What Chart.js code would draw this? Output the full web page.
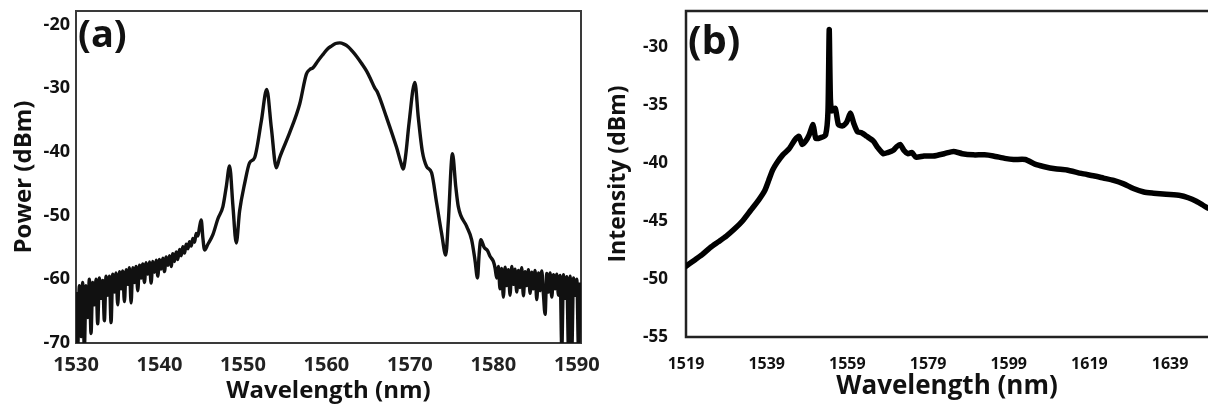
<!DOCTYPE html>
<html><head><meta charset="utf-8">
<script src="https://cdn.jsdelivr.net/npm/chart.js@4.4.0/dist/chart.umd.min.js"></script>
<style>
html,body{margin:0;padding:0;background:#fff;overflow:hidden;width:1208px;height:410px;position:relative;}
#ca{position:absolute;left:0;top:0;}
#cb{position:absolute;left:600px;top:0;}
</style></head><body>
<canvas id="ca" width="600" height="410"></canvas>
<canvas id="cb" width="620" height="410"></canvas>
<script>
// ---------- Panel (a) ----------
const panelA = '(a)';
const xTitleA = 'Wavelength (nm)';
const yTitleA = 'Power (dBm)';
const ticksAX = [1530,1540,1550,1560,1570,1580,1590];
const ticksAY = [-70,-60,-50,-40,-30,-20];
const waveA = [
1530.0,1530.2,1530.4,1530.6,1530.8,1531.0,1531.2,1531.4,1531.6,1531.8,
1532.0,1532.2,1532.4,1532.6,1532.8,1533.0,1533.2,1533.4,1533.6,1533.8,
1534.0,1534.2,1534.4,1534.6,1534.8,1535.0,1535.2,1535.4,1535.6,1535.8,
1536.0,1536.2,1536.4,1536.6,1536.8,1537.0,1537.2,1537.4,1537.6,1537.8,
1538.0,1538.2,1538.4,1538.6,1538.8,1539.0,1539.2,1539.4,1539.6,1539.8,
1540.0,1540.2,1540.4,1540.6,1540.8,1541.0,1541.2,1541.4,1541.6,1541.8,
1542.0,1542.2,1542.4,1542.6,1542.8,1543.0,1543.2,1543.4,1543.6,1543.8,
1544.0,1544.2,1544.4,1544.6,1544.8,1545.0,1545.2,1545.4,1545.8,1546.4,
1547.0,1547.6,1548.0,1548.4,1548.8,1549.2,1549.6,1550.2,1550.8,1551.4,
1552.2,1552.85,1553.4,1554.0,1554.4,1555.6,1556.8,1557.6,1558.0,1558.4,
1559.0,1559.6,1560.1,1560.6,1561.1,1561.6,1562.1,1562.6,1563.1,1563.6,
1564.2,1564.8,1565.3,1565.8,1566.1,1567.2,1568.4,1568.9,1569.2,1569.5,
1569.9,1570.6,1571.0,1571.5,1572.0,1572.6,1573.2,1573.8,1574.3,1574.6,
1575.1,1575.5,1575.8,1576.8,1577.4,1577.8,1578.1,1578.3,1578.5,1578.9,
1579.3,1579.6,1580.0,1580.2,1580.4,1580.6,1580.8,1581.0,1581.2,1581.4,
1581.6,1581.8,1582.0,1582.2,1582.4,1582.6,1582.8,1583.0,1583.2,1583.4,
1583.6,1583.8,1584.0,1584.2,1584.4,1584.6,1584.8,1585.0,1585.2,1585.4,
1585.6,1585.8,1586.0,1586.2,1586.4,1586.6,1586.8,1587.0,1587.2,1587.4,
1587.6,1587.8,1588.0,1588.2,1588.4,1588.6,1588.8,1589.0,1589.2,1589.4,
1589.6,1589.8,1590.0,1590.2,1590.4
];
const powerA = [
-62,-71,-61,-69,-60.5,-71,-61,-66,-60,-68.5,
-60.5,-64,-60,-67,-59.8,-63,-60.2,-66.5,-59.5,-62.5,
-59.5,-66.8,-59.2,-62,-59,-64,-58.8,-61.5,-58.7,-63.5,
-58.5,-60.8,-58.2,-63.7,-58.2,-60.5,-58,-61.8,-57.8,-59.8,
-57.6,-60.5,-57.4,-59.2,-57.3,-60.6,-57.2,-58.9,-57,-59.5,
-56.9,-58.4,-56.7,-58.8,-56.5,-57.8,-56.3,-58,-56,-57.2,
-55.7,-56.9,-55.3,-56.3,-54.9,-55.9,-54.5,-55.2,-54.1,-54.8,
-53.6,-54.2,-52.8,-53.2,-51.8,-50.7,-53.5,-55.4,-54.5,-53,
-50.5,-48.6,-45.5,-42.2,-48.5,-54.3,-49.3,-45,-41.7,-40.9,
-35.2,-30.2,-36.2,-42.5,-40.9,-37,-32.5,-27.8,-27.1,-26.8,
-25.7,-24.7,-23.9,-23.4,-23.0,-22.9,-23.1,-23.5,-24.2,-25.0,
-26.1,-27.3,-28.6,-30.0,-30.6,-34.6,-39.3,-41.6,-42.7,-40.5,
-35.5,-29.1,-34.5,-40,-42.3,-43.3,-48,-52.8,-56.2,-51,
-40.3,-45.5,-48.6,-51.7,-53.8,-57,-59.8,-56,-53.8,-55,
-55.5,-56.4,-57.2,-58.2,-59.8,-58,-61.5,-58.3,-62.8,-58.1,
-61,-58.5,-62.5,-58,-60.8,-58.4,-62,-58.6,-61.3,-58.2,
-62.6,-58.8,-61,-58.5,-62.2,-58.9,-61.5,-58.6,-63.2,-59,
-61.8,-58.7,-62.4,-65.5,-59.1,-62,-59,-62.8,-59.3,-61.5,
-59.2,-62.5,-59.4,-71,-59.3,-63,-59.6,-71,-59.5,-71,
-59.8,-62.5,-60,-71,-60.5
];

// ---------- Panel (b) ----------
const panelB = '(b)';
const xTitleB = 'Wavelength (nm)';
const yTitleB = 'Intensity (dBm)';
const ticksBX = [1519,1539,1559,1579,1599,1619,1639];
const ticksBY = [-55,-50,-45,-40,-35,-30];
const waveB = [
1519,1521,1523,1525,1527,1529,1531,1533,1535,1537,
1538.5,1539.5,1540.5,1541.5,1543,1544.5,1546,1547,1547.8,1548.7,
1549.5,1550.5,1551.2,1552.5,1553.6,1554.2,1554.5,1554.8,1555.2,1556.0,
1556.8,1557.8,1558.8,1559.8,1560.6,1561.5,1562.5,1563.8,1565.4,1566.6,
1567.9,1569.0,1570.4,1571.2,1572.1,1573.0,1574.0,1575.0,1576.0,1578,
1580.3,1583,1585.3,1587.5,1590.2,1593,1595.2,1598,1600.2,1603.1,
1605.5,1607.6,1610.5,1613.4,1617,1620,1622.5,1625,1627.5,1629.9,
1632.5,1634.9,1638,1641.5,1643.5,1645.5,1647,1648.4
];
const intensB = [
-48.9,-48.4,-47.9,-47.3,-46.8,-46.3,-45.7,-45.0,-44.1,-43.2,
-42.4,-41.5,-40.6,-40.0,-39.3,-38.8,-38.0,-37.7,-38.4,-38.1,
-37.6,-36.7,-37.9,-37.8,-37.6,-35.5,-28.5,-34.5,-35.5,-35.3,
-36.7,-36.8,-36.5,-35.7,-36.6,-37.3,-37.4,-37.7,-38.1,-38.7,
-39.2,-39.1,-38.9,-38.6,-38.4,-38.9,-39.2,-39.1,-39.5,-39.4,
-39.4,-39.2,-39.0,-39.2,-39.3,-39.3,-39.4,-39.6,-39.7,-39.7,
-40.1,-40.3,-40.5,-40.6,-40.9,-41.1,-41.3,-41.5,-41.8,-42.2,
-42.5,-42.6,-42.7,-42.8,-43.0,-43.3,-43.6,-43.9
];

Chart.defaults.font.family = '"Open Sans", "DejaVu Sans", sans-serif';
Chart.defaults.color = '#1a1a1a';

function pts(xs, ys){ return xs.map((x,i)=>({x:x, y:ys[i]})); }
function setTicks(list){ return s => { s.ticks = list.map(v=>({value:v})); }; }
function fixH(h){ return s => { s.height = h; s.paddingLeft = 0; s.paddingRight = 0; s.paddingTop = 0; s.paddingBottom = 0; }; }
function fixW(w){ return s => { s.width = w; s.paddingLeft = 0; s.paddingRight = 0; s.paddingTop = 0; s.paddingBottom = 0; }; }

const frameA = {
  id:'frameA',
  beforeDatasetsDraw(c){
    const {ctx, chartArea:a} = c;
    ctx.save(); ctx.strokeStyle='#3a3a3a'; ctx.lineWidth=2;
    ctx.strokeRect(a.left, a.top, a.right-a.left, a.bottom-a.top);
    ctx.restore();
  },
  afterDraw(c){
    const {ctx, chartArea:a} = c;
    ctx.save(); ctx.fillStyle='#111'; ctx.font='bold 38px "Open Sans"';
    ctx.textBaseline='alphabetic'; ctx.textAlign='left';
    ctx.fillText(panelA, a.left+2, 47);
    ctx.restore();
  }
};
const frameB = {
  id:'frameB',
  beforeDatasetsDraw(c){
    const {ctx, chartArea:a} = c;
    ctx.save(); ctx.strokeStyle='#222'; ctx.lineWidth=2.5;
    ctx.beginPath();
    ctx.moveTo(a.right+20, a.top); ctx.lineTo(a.left, a.top);
    ctx.lineTo(a.left, a.bottom); ctx.lineTo(a.right+20, a.bottom);
    ctx.stroke(); ctx.restore();
  },
  afterDraw(c){
    const {ctx, chartArea:a} = c;
    ctx.save(); ctx.fillStyle='#111'; ctx.font='bold 40px "Open Sans"';
    ctx.textBaseline='alphabetic'; ctx.textAlign='left';
    ctx.fillText(panelB, a.left+2, 54);
    ctx.restore();
  }
};

new Chart(document.getElementById('ca'), {
  type:'line',
  data:{ datasets:[{ data:pts(waveA, powerA), borderColor:'#111', borderWidth:3.4, pointRadius:0, cubicInterpolationMode:'monotone', clip:0 }]},
  options:{
    responsive:false, animation:false, devicePixelRatio:1,
    layout:{ padding:{ top:11, right:19, left:0, bottom:0 } },
    plugins:{ legend:{display:false}, tooltip:{enabled:false} },
    scales:{
      x:{ type:'linear', min:1530, max:1590.5,
        afterBuildTicks:setTicks(ticksAX), afterFit:fixH(67),
        grid:{display:false, drawTicks:false}, border:{display:false},
        ticks:{ padding:10, autoSkip:false, maxRotation:0, color:'#222', font:{size:20, weight:'bold'}, callback:v=>String(v) },
        title:{ display:true, text:xTitleA, color:'#111', font:{size:24, weight:'bold'}, padding:{top:0, bottom:4} } },
      y:{ type:'linear', min:-70, max:-17.9,
        afterBuildTicks:setTicks(ticksAY), afterFit:fixW(76),
        grid:{display:false, drawTicks:false}, border:{display:false},
        ticks:{ padding:6, autoSkip:false, color:'#111', font:{size:18, weight:'bold'}, callback:v=>String(v) },
        title:{ display:true, text:yTitleA, color:'#111', font:{size:24, weight:'bold'}, padding:{top:10, bottom:0} } }
    }
  },
  plugins:[frameA]
});

new Chart(document.getElementById('cb'), {
  type:'line',
  data:{ datasets:[{ data:pts(waveB, intensB), borderColor:'#000', borderWidth:5.5, pointRadius:0, tension:0.2, borderJoinStyle:'round', borderCapStyle:'round' }]},
  options:{
    responsive:false, animation:false, devicePixelRatio:1,
    layout:{ padding:{ top:11, right:12, left:0, bottom:0 } },
    plugins:{ legend:{display:false}, tooltip:{enabled:false} },
    scales:{
      x:{ type:'linear', min:1519, max:1648.4,
        afterBuildTicks:setTicks(ticksBX), afterFit:fixH(73),
        grid:{display:false, drawTicks:false}, border:{display:false},
        ticks:{ padding:18, autoSkip:false, maxRotation:0, color:'#111', font:{size:16, weight:'bold'}, callback:v=>String(v) },
        title:{ display:true, text:xTitleB, color:'#111', font:{size:26, weight:'bold'}, padding:{top:0, bottom:8} } },
      y:{ type:'linear', min:-55, max:-26.9,
        afterBuildTicks:setTicks(ticksBY), afterFit:fixW(86),
        grid:{display:false, drawTicks:false}, border:{display:false},
        ticks:{ padding:18, autoSkip:false, color:'#111', font:{size:17, weight:'bold'}, callback:v=>String(v) },
        title:{ display:true, text:yTitleB, color:'#111', font:{size:23, weight:'bold'}, padding:{top:5, bottom:0} } }
    }
  },
  plugins:[frameB]
});
</script>
</body></html>
